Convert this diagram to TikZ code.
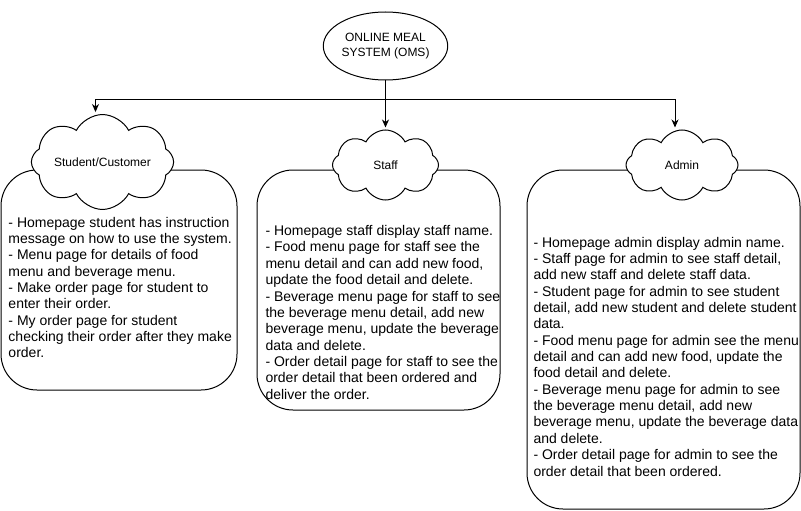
\documentclass[tikz,border=0pt]{standalone}
\usepackage{fontspec}
\setmainfont{Liberation Sans}
\usetikzlibrary{shapes.geometric,shapes.symbols,arrows.meta}
\begin{document}
\begin{tikzpicture}[x=1pt,y=-1pt,
  line width=1pt,
  topnode/.style={draw,ellipse,minimum width=121pt,minimum height=68pt,inner sep=0pt,align=center,font=\fontsize{12}{15}\selectfont},
  cloudnode/.style={draw,cloud,cloud puffs=8,cloud puff arc=125,aspect=2,minimum width=132pt,minimum height=70pt,inner sep=0pt,fill=white,font=\fontsize{12}{15}\selectfont},
  boxnode/.style={draw,rounded corners=36pt,inner sep=0pt},
  boxtext/.style={anchor=north west,inner sep=0pt,align=left,font=\fontsize{14}{16.35}\selectfont},
  arr/.style={-{Stealth[length=8pt,width=7pt,inset=2.5pt]}}
]
\useasboundingbox (0,0) rectangle (801,511);
\node[topnode] (oms) at (385.5,46) {ONLINE MEAL\\SYSTEM (OMS)};

\node[boxnode,minimum width=236pt,minimum height=220pt] (custbox) at (119,280) {};
\node[boxnode,minimum width=243pt,minimum height=240pt] (staffbox) at (378.5,290) {};
\node[boxnode,minimum width=273pt,minimum height=339pt] (adminbox) at (663.5,339.5) {};

\node[cloudnode] (cust) at (102.5,162) {Student/Customer};
\node[cloudnode,minimum width=106pt] (staff) at (385.5,165) {Staff};
\node[cloudnode,minimum width=112pt] (admin) at (682,165) {Admin};

\coordinate (junc) at (385.5,100);
\draw (oms.south) -- (junc);
\draw[arr] (junc) -| ([xshift=-7pt,yshift=2pt]cust.north);
\draw[arr] (junc) -- ([yshift=2pt]staff.north);
\draw[arr] (junc) -| ([xshift=-7pt,yshift=2pt]admin.north);

\node[boxtext] (custtext) at (8,216.5) {- Homepage student has instruction\\message on how to use the system.\\- Menu page for details of food\\menu and beverage menu.\\- Make order page for student to\\enter their order.\\- My order page for student\\checking their order after they make\\order.};
\node[boxtext] (stafftext) at (265,225) {- Homepage staff display staff name.\\- Food menu page for staff see the\\menu detail and can add new food,\\update the food detail and delete.\\- Beverage menu page for staff to see\\the beverage menu detail, add new\\beverage menu, update the beverage\\data and delete.\\- Order detail page for staff to see the\\order detail that been ordered and\\deliver the order.};
\node[boxtext] (admintext) at (533,236.5) {- Homepage admin display admin name.\\- Staff page for admin to see staff detail,\\add new staff and delete staff data.\\- Student page for admin to see student\\detail, add new student and delete student\\data.\\- Food menu page for admin see the menu\\detail and can add new food, update the\\food detail and delete.\\- Beverage menu page for admin to see\\the beverage menu detail, add new\\beverage menu, update the beverage data\\and delete.\\- Order detail page for admin to see the\\order detail that been ordered.};
\end{tikzpicture}
\end{document}
